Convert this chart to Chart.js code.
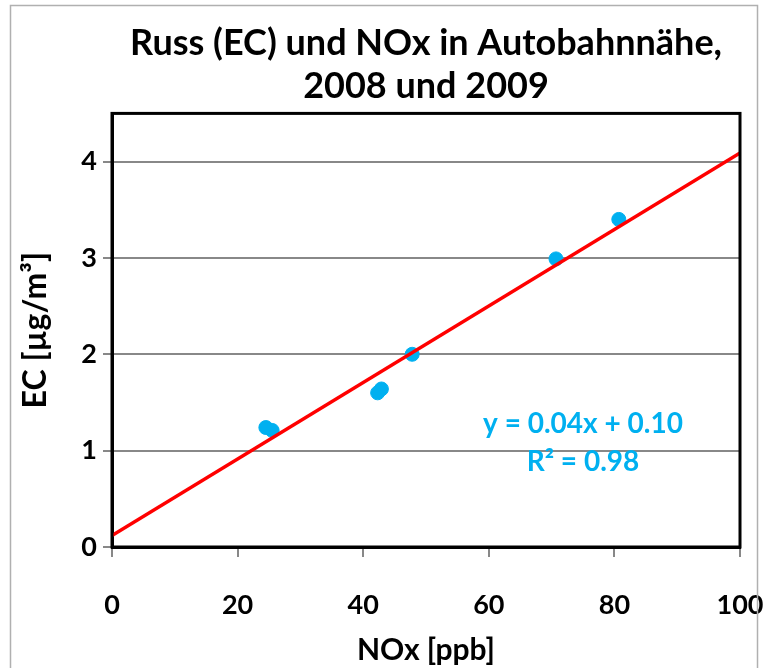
<!DOCTYPE html>
<html lang="de">
<head>
<meta charset="UTF-8">
<title>Russ (EC) und NOx in Autobahnnähe</title>
<script src="https://cdn.jsdelivr.net/npm/chart.js"></script>
<style>
  html, body { margin: 0; padding: 0; background: #fff; }
  #wrap { width: 772px; height: 668px; }
</style>
</head>
<body>
<div id="wrap"><canvas id="ecChart" width="772" height="668"></canvas></div>
<script>
// NOx [ppb] vs EC [µg/m³]
const noxValues = [24.5, 25.5, 42.3, 42.9, 47.8, 70.7, 80.7];
const ecValues  = [1.24, 1.21, 1.60, 1.64, 2.00, 2.99, 3.40];

// linear trend line as drawn (end points at x = 0 and x = 100)
const trendX = [0, 100];
const trendY = [0.12, 4.09];

const xTicks = [0, 20, 40, 60, 80, 100];
const yTicks = [0, 1, 2, 3, 4];

const equationText = ['y = 0.04x + 0.10', 'R² = 0.98'];

const FONT = 'Lato, "Open Sans", sans-serif';
const BLUE = '#00b0f0';

// black plot frame, outer grey border and the trend equation
const framePlugin = {
  id: 'frame',
  afterDraw(chart) {
    const { ctx, chartArea: a, scales } = chart;
    ctx.save();
    ctx.strokeStyle = '#000';
    ctx.lineWidth = 3;
    ctx.strokeRect(a.left, a.top, a.right - a.left, a.bottom - a.top);

    ctx.strokeStyle = '#b0b0b0';
    ctx.lineWidth = 1.5;
    ctx.strokeRect(10.5, 5.5, 747, 700);

    ctx.fillStyle = BLUE;
    ctx.font = 'bold 28px ' + FONT;
    ctx.textAlign = 'center';
    ctx.textBaseline = 'middle';
    const cx = scales.x.getPixelForValue(75);
    ctx.fillText(equationText[0], cx, scales.y.getPixelForValue(1.28));
    ctx.fillText(equationText[1], cx, scales.y.getPixelForValue(0.88));
    ctx.restore();
  }
};

new Chart(document.getElementById('ecChart'), {
  type: 'scatter',
  data: {
    datasets: [
      {
        label: 'EC',
        data: noxValues.map((x, i) => ({ x: x, y: ecValues[i] })),
        backgroundColor: BLUE,
        borderColor: BLUE,
        pointRadius: 7,
        pointHoverRadius: 7,
        order: 2
      },
      {
        label: 'Trend',
        type: 'line',
        data: trendX.map((x, i) => ({ x: x, y: trendY[i] })),
        borderColor: '#ff0000',
        borderWidth: 3.5,
        pointRadius: 0,
        fill: false,
        order: 1
      }
    ]
  },
  options: {
    responsive: false,
    animation: false,
    layout: { padding: { left: 10, right: 32, top: 0, bottom: 0 } },
    plugins: {
      legend: { display: false },
      tooltip: { enabled: false },
      title: {
        display: true,
        fullSize: false,
        text: ['Russ (EC) und NOx in Autobahnnähe,', '2008 und 2009'],
        color: '#000',
        font: { family: FONT, size: 36, weight: 'bold', lineHeight: 1.2 },
        padding: { top: 22, bottom: 5 }
      }
    },
    scales: {
      x: {
        type: 'linear',
        min: 0,
        max: 100,
        afterBuildTicks: s => { s.ticks = xTicks.map(v => ({ value: v })); },
        afterFit: s => { s.height = 121; s.paddingLeft = 0; s.paddingRight = 0; },
        grid: { drawOnChartArea: false, drawTicks: true, tickLength: 10, color: '#888', lineWidth: 2 },
        border: { color: '#000', width: 3 },
        ticks: { color: '#000', font: { family: FONT, size: 27, weight: 'bold' }, padding: 32 },
        title: {
          display: true,
          text: 'NOx [ppb]',
          color: '#000',
          font: { family: FONT, size: 30, weight: 'bold' },
          padding: { bottom: 0 }
        }
      },
      y: {
        type: 'linear',
        min: 0,
        max: 4.5,
        afterBuildTicks: s => { s.ticks = yTicks.map(v => ({ value: v })); },
        afterFit: s => { s.width = 102; },
        grid: { drawTicks: true, tickLength: 9, color: '#888', lineWidth: 2 },
        border: { color: '#000', width: 3 },
        ticks: { color: '#000', font: { family: FONT, size: 27, weight: 'bold' }, padding: 6 },
        title: {
          display: true,
          text: 'EC [µg/m³]',
          color: '#000',
          font: { family: FONT, size: 32, weight: 'bold' },
          padding: { top: 6 }
        }
      }
    }
  },
  plugins: [framePlugin]
});
</script>
</body>
</html>
